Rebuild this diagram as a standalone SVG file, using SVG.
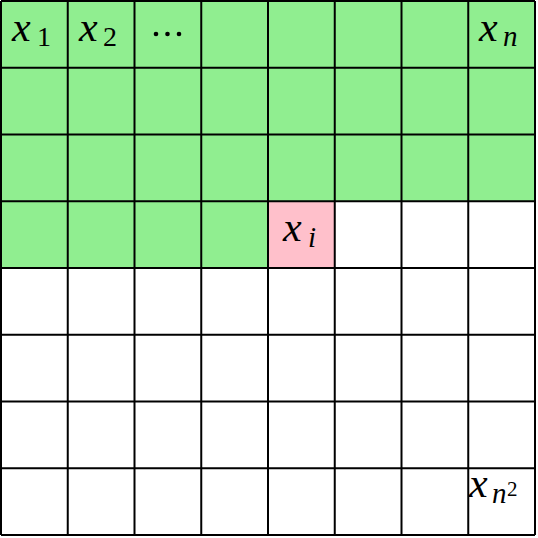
<svg xmlns="http://www.w3.org/2000/svg" width="538" height="538" viewBox="0 0 538 538">
<style>
.g{fill:#90EE90}
.p{fill:#FFC0CB}
.ln{stroke:#000;stroke-width:2;fill:none}
text{font-family:'Liberation Serif','Times New Roman','DejaVu Serif',serif;fill:#000}
.mx{font-style:italic;font-size:42px}
.sb{font-size:28px}
.si{font-style:italic;font-size:29px}
.sp{font-size:21px}
</style>
<rect x="0" y="0" width="538" height="538" fill="#fff"/>
<g id="fill">
<rect class="g" x="1" y="1" width="534" height="200.25"/>
<rect class="g" x="1" y="201.25" width="267" height="66.75"/>
<rect class="p" x="268" y="201.25" width="66.75" height="66.75"/>
</g>
<g id="grid" class="ln">
<path d="M1 1V535M67.75 1V535M134.5 1V535M201.25 1V535M268 1V535M334.75 1V535M401.5 1V535M468.25 1V535M535 1V535"/>
<path d="M1 1H535M1 67.75H535M1 134.5H535M1 201.25H535M1 268H535M1 334.75H535M1 401.5H535M1 468.25H535M1 535H535"/>
</g>
<g id="x1"><text class="mx" x="12" y="41">x</text><text class="sb" x="37" y="46">1</text></g>
<g id="x2"><text class="mx" x="79" y="41">x</text><text class="sb" x="103" y="46">2</text></g>
<g id="dots" fill="#000"><circle cx="156" cy="34" r="2.3"/><circle cx="167.5" cy="34" r="2.3"/><circle cx="179" cy="34" r="2.3"/></g>
<g id="xn"><text class="mx" x="479" y="41">x</text><text class="si" x="503" y="46">n</text></g>
<g id="xi"><text class="mx" x="283" y="241">x</text><text class="si" x="308" y="247">i</text></g>
<g id="xn2"><text class="mx" x="469" y="497">x</text><text class="si" x="492" y="503">n</text><text class="sp" x="507" y="496">2</text></g>
</svg>
